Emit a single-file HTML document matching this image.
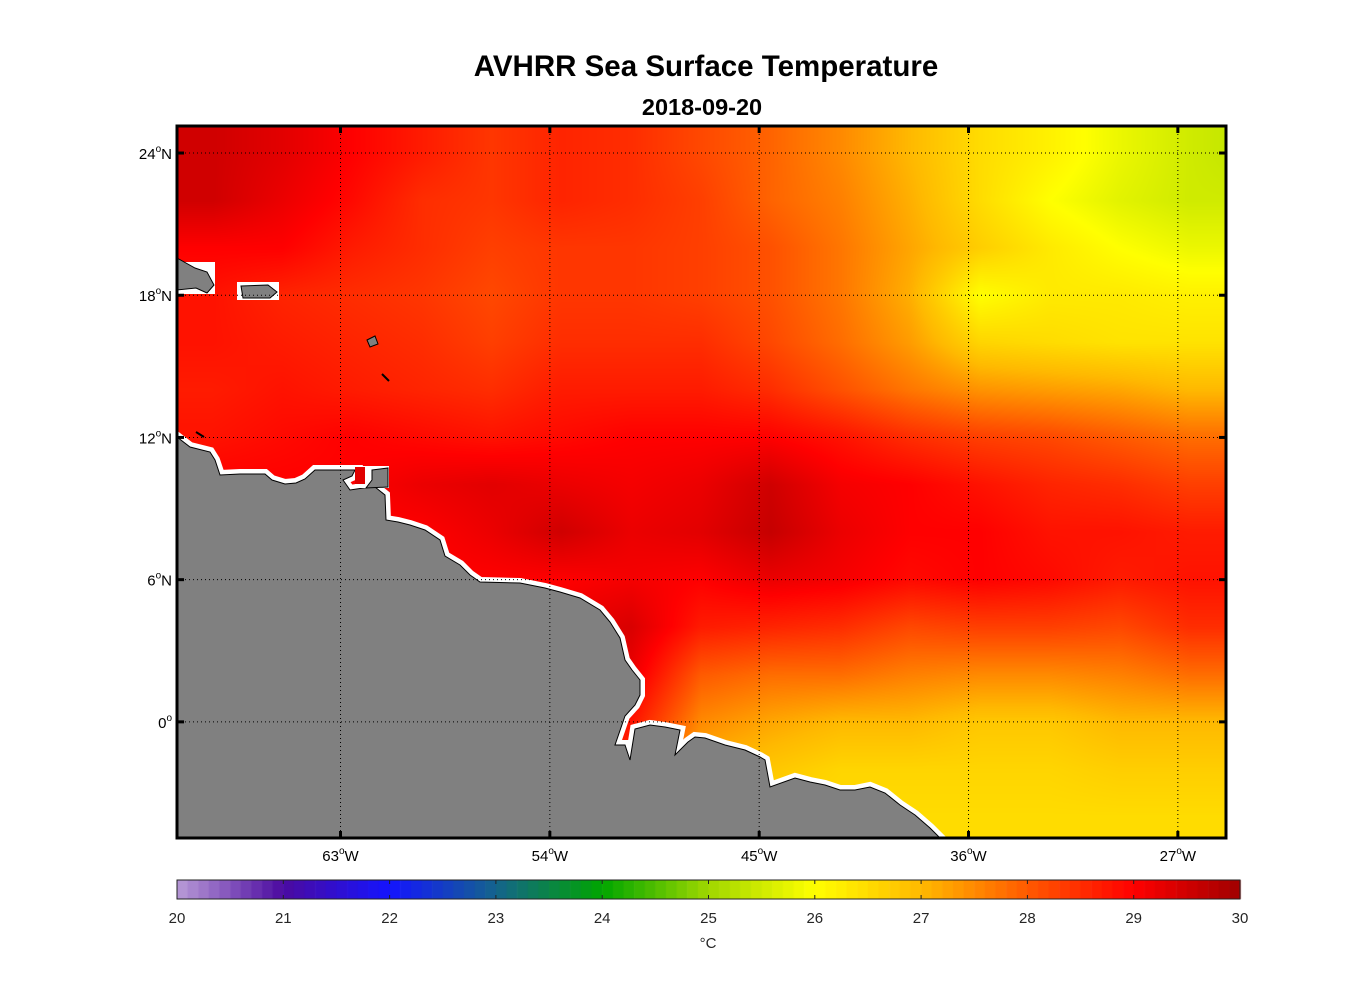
<!DOCTYPE html>
<html><head><meta charset="utf-8"><style>
body{margin:0;background:#fff;width:1356px;height:1000px;overflow:hidden;position:relative;font-family:"Liberation Sans",sans-serif}
canvas,svg{position:absolute;left:0;top:0}
</style></head><body>
<canvas id="sst" width="1356" height="1000"></canvas>
<svg id="ov" width="1356" height="1000"></svg>
<script>
const lats=[24,22,20,18,16,14,12,10,8,6,4,2,0,-2,-4];
const lons=[-68.5,-65.5,-62.5,-59.5,-56.5,-53.5,-50.5,-47.5,-44.5,-41.5,-38.5,-35.5,-32.5,-29.5,-26.5,-23.5];
const sstRows=[
[29.5,29.3,29,28.7,28.4,28.6,28.5,28.2,27.9,27.5,27,26.5,26.2,25.8,25.5,25.3],
[29.5,29.2,28.9,28.5,28.4,28.6,28.5,28.3,27.9,27.6,27.1,26.5,26,25.7,25.5,25.5],
[29,29,28.7,28.5,28.3,28.4,28.4,28.3,28.1,27.7,27.2,26.7,26.3,26,25.8,25.8],
[28.8,28.6,28.5,28.4,28.2,28.4,28.4,28.3,28.1,27.7,27.1,26,26.3,26.3,26.2,26.2],
[28.8,28.7,28.6,28.5,28.3,28.5,28.5,28.5,28.2,27.8,27.3,26.6,26.5,26.4,26.4,26.4],
[28.7,28.8,28.7,28.6,28.5,28.7,28.7,28.7,28.5,28.1,27.7,27.4,27.3,27.2,27,27],
[28.8,28.9,29,28.9,28.8,28.9,29,29,29,28.8,28.5,28.3,28.2,28,27.8,27.8],
[29,29,29,29.2,29.3,29.2,29.1,29.2,29.5,29.1,29,28.8,28.6,28.5,28.3,28.3],
[29,29,29,29,29.2,29.5,29.2,29.3,29.6,29.2,29,29,28.8,28.8,28.7,28.7],
[29,29,29,29,29,29,29.1,29,29.2,29.1,28.9,29,28.9,28.7,28.8,28.8],
[29,29,29,29,29,29.2,29.4,28.7,28.6,28.5,28.2,28.3,28.3,28.2,28.5,28.5],
[29,29,29,29,29,29.2,29.2,28,27.8,27.8,27.6,27.5,27.5,27.6,27.8,27.8],
[29,29,29,29,29,29,28.8,27.5,27.2,27,27,26.8,26.8,27,27,27],
[29,29,29,29,29,28.5,28.5,27,26.8,26.6,26.6,26.6,26.6,26.7,26.7,26.7],
[29,29,29,29,29,28,27.5,26.6,26.5,26.5,26.5,26.5,26.5,26.5,26.5,26.5]];
const lonTicks=[-63,-54,-45,-36,-27];
const latTicks=[24,18,12,6,0];
const cbTicks=[20,21,22,23,24,25,26,27,28,29,30];
const cmC=[[185,155,215],[75,10,160],[20,20,255],[20,100,140],[0,165,0],[160,215,0],[255,255,0],[255,185,0],[255,90,0],[255,0,0],[160,0,0]];
const X0=177,X1=1226,Y0=126,Y1=838;
const lonMin=-70.03,lonMax=-24.93,latMax=25.14,latMin=-4.9;
const xS=l=>X0+(l-lonMin)/(lonMax-lonMin)*(X1-X0);
const yS=l=>Y0+(latMax-l)/(latMax-latMin)*(Y1-Y0);
function cmap(v){v=Math.max(20,Math.min(30,v));let i=Math.min(9,Math.floor(v-20));let f=v-20-i;const a=cmC[i],b=cmC[i+1];return a.map((c,k)=>Math.round(c+(b[k]-c)*f));}
const cv=document.getElementById('sst').getContext('2d');
const img=cv.createImageData(X1-X0,Y1-Y0);
for(let py=0;py<Y1-Y0;py++){const lat=latMax-(py+0.5)/(Y1-Y0)*(latMax-latMin);
 let fr=(lats[0]-lat)/2;fr=Math.max(0,Math.min(lats.length-1.001,fr));const r=Math.floor(fr),tr=fr-r;
 for(let px=0;px<X1-X0;px++){const lon=lonMin+(px+0.5)/(X1-X0)*(lonMax-lonMin);
  let fc=(lon-lons[0])/3;fc=Math.max(0,Math.min(lons.length-1.001,fc));const c=Math.floor(fc),tc=fc-c;
  const v=(sstRows[r][c]*(1-tc)+sstRows[r][c+1]*tc)*(1-tr)+(sstRows[r+1][c]*(1-tc)+sstRows[r+1][c+1]*tc)*tr;
  const col=cmap(v);const k=(py*(X1-X0)+px)*4;img.data[k]=col[0];img.data[k+1]=col[1];img.data[k+2]=col[2];img.data[k+3]=255;}}
cv.putImageData(img,X0,Y0);
const CB0=177,CB1=1240,CBY=880,CBH=19;
for(let i=0;i<100;i++){const v=20+i*0.1+0.05;const c=cmap(v);cv.fillStyle=`rgb(${c})`;cv.fillRect(CB0+i*(CB1-CB0)/100,CBY,(CB1-CB0)/100+0.6,CBH);}
const NS='http://www.w3.org/2000/svg',svg=document.getElementById('ov');
function el(t,a,p){const e=document.createElementNS(NS,t);for(const k in a)e.setAttribute(k,a[k]);(p||svg).appendChild(e);return e;}
const land="177,437 190,447 210,452 215,460 220,475 240,474 265,474 272,480 285,484 296,483 305,479 315,470 355,470 352,476 343,480 350,490 370,487 375,487 385,495 386,520 398,522 410,525 425,530 440,540 445,556 460,565 470,575 480,582 520,583 545,588 560,592 580,598 600,610 610,622 620,638 625,660 632,670 640,680 640,695 635,705 625,716 615,745 625,745 630,760 635,729 650,725 665,727 680,730 675,755 688,742 695,737 705,738 725,745 745,750 760,757 765,760 770,787 795,778 810,782 825,785 840,790 855,790 870,787 885,793 900,805 915,815 930,828 940,838 177,838";
const lw=el('polygon',{points:land,fill:'#fff',stroke:'#fff','stroke-width':10});

const lp=el('polygon',{points:land,fill:'#808080',stroke:'#000','stroke-width':1});

el('rect',{x:237,y:282,width:42,height:18,fill:'#fff'});
const pr=el('polygon',{points:'241,286 268,285 277,292 270,298 243,298',fill:'#808080',stroke:'#000','stroke-width':1});

el('rect',{x:177,y:262,width:38,height:32,fill:'#fff'});
const hi=el('polygon',{points:'177,258 195,268 207,272 214,285 207,293 196,288 177,290',fill:'#808080',stroke:'#000','stroke-width':1});

el('polygon',{points:'367,340 375,336 378,344 370,347',fill:'#808080',stroke:'#000','stroke-width':1});
el('line',{x1:382,y1:374,x2:389,y2:381,stroke:'#000','stroke-width':2});
el('line',{x1:196,y1:432,x2:204,y2:437,stroke:'#000','stroke-width':2});
el('rect',{x:355,y:466,width:34,height:22,fill:'#fff'});
el('rect',{x:355,y:467,width:10,height:17,fill:'#e00000'});
el('polygon',{points:'372,470 388,468 388,487 366,488 372,480',fill:'#808080',stroke:'#000','stroke-width':1});
lonTicks.forEach(l=>{const x=xS(l);
 const g=el('line',{x1:x,y1:Y0,x2:x,y2:Y1,stroke:'#000','stroke-width':1,'stroke-dasharray':'1,3'});
 
 el('line',{x1:x,y1:Y0,x2:x,y2:Y0+7,stroke:'#000','stroke-width':3});
 el('line',{x1:x,y1:Y1,x2:x,y2:Y1-7,stroke:'#000','stroke-width':3});
 const t=el('text',{x:x,y:861,'text-anchor':'middle','font-size':15,fill:'#000'});
 
 t.innerHTML=Math.abs(l)+'<tspan dy="-7" font-size="10">o</tspan><tspan dy="7">W</tspan>';});
latTicks.forEach(l=>{const y=yS(l);
 const g=el('line',{x1:X0,y1:y,x2:X1,y2:y,stroke:'#000','stroke-width':1,'stroke-dasharray':'1,3'});
 
 el('line',{x1:X0,y1:y,x2:X0+7,y2:y,stroke:'#000','stroke-width':3});
 el('line',{x1:X1,y1:y,x2:X1-7,y2:y,stroke:'#000','stroke-width':3});
 const t=el('text',{x:172,y:y+6,'text-anchor':'end','font-size':15,fill:'#000'});
 
 t.innerHTML=l===0?'0<tspan dy="-7" font-size="10">o</tspan>':l+'<tspan dy="-7" font-size="10">o</tspan><tspan dy="7">N</tspan>';});
const fr=el('rect',{x:X0,y:Y0,width:X1-X0,height:Y1-Y0,fill:'none',stroke:'#000','stroke-width':3});

const cbf=el('rect',{x:CB0,y:CBY,width:CB1-CB0,height:CBH,fill:'none',stroke:'#222','stroke-width':1});

cbTicks.forEach(v=>{const x=CB0+(v-20)/10*(CB1-CB0);
 el('line',{x1:x,y1:CBY,x2:x,y2:CBY+4,stroke:'#222','stroke-width':1});
 el('line',{x1:x,y1:CBY+CBH,x2:x,y2:CBY+CBH-4,stroke:'#222','stroke-width':1});
 const t=el('text',{x:x,y:923,'text-anchor':'middle','font-size':15,fill:'#262626'});
 t.textContent=v;});
const u=el('text',{x:708,y:948,'text-anchor':'middle','font-size':15,fill:'#262626'});
u.textContent='°C';
const ti=el('text',{x:706,y:76,'text-anchor':'middle','font-size':29.5,'font-weight':'bold',fill:'#000'});
ti.textContent='AVHRR Sea Surface Temperature';
const st=el('text',{x:702,y:115,'text-anchor':'middle','font-size':23.5,'font-weight':'bold',fill:'#000'});
st.textContent='2018-09-20';
</script>
</body></html>
